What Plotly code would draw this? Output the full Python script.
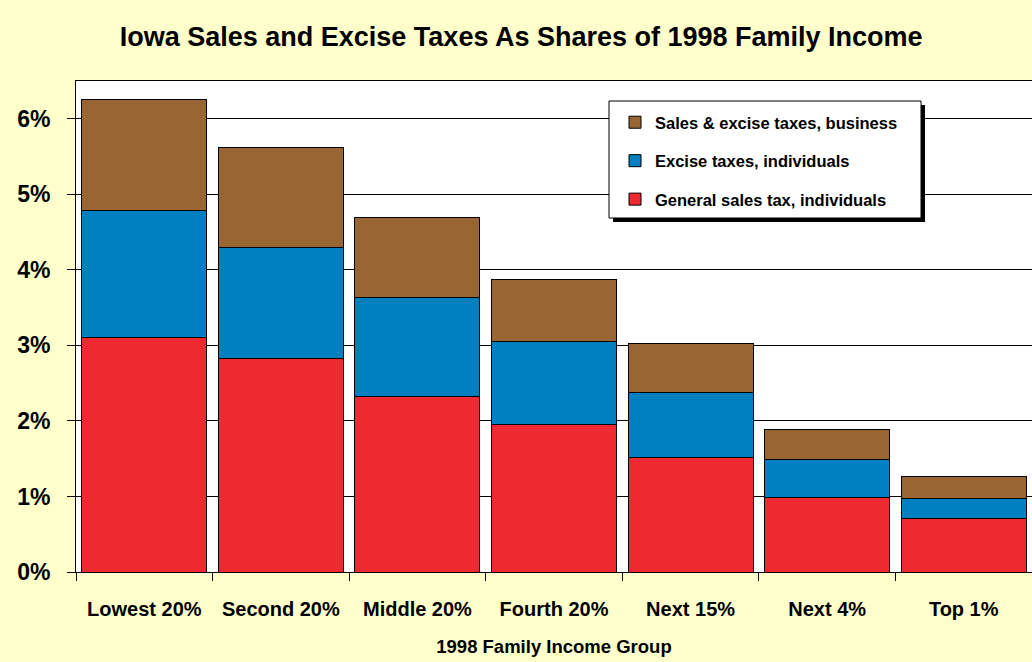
import plotly.graph_objects as go

# 1998 family income groups
groups = ["Lowest 20%", "Second 20%", "Middle 20%", "Fourth 20%",
          "Next 15%", "Next 4%", "Top 1%"]

# tax shares of income, in percent
general_sales = [3.11, 2.82, 2.32, 1.95, 1.52, 0.98, 0.71]
excise_indiv = [1.67, 1.47, 1.32, 1.10, 0.86, 0.51, 0.26]
business = [1.48, 1.33, 1.05, 0.82, 0.65, 0.40, 0.29]

FONT = "Liberation Sans, Arial, sans-serif"

# plot area in pixels
L, R, T, B = 76, 1032, 81, 572
PW, PH = R - L, B - T


def px(x):
    return (x - L) / PW


def py(y):
    return (B - y) / PH


fig = go.Figure()

fig.add_trace(go.Bar(x=groups, y=general_sales, name="General sales tax, individuals",
                     legendgroup="a", legendrank=3,
                     marker=dict(color="#EE2A30", line=dict(color="black", width=1))))
fig.add_trace(go.Bar(x=groups, y=excise_indiv, name="Excise taxes, individuals",
                     legendgroup="b", legendrank=2,
                     marker=dict(color="#0080C0", line=dict(color="black", width=1))))
fig.add_trace(go.Bar(x=groups, y=business, name="Sales & excise taxes, business",
                     legendgroup="c", legendrank=1,
                     marker=dict(color="#996633", line=dict(color="black", width=1))))

# legend box with drop shadow
fig.add_shape(type="rect", xref="paper", yref="paper",
              x0=px(613), x1=px(925), y0=py(222), y1=py(105),
              fillcolor="black", line=dict(width=0), layer="above")
fig.add_shape(type="rect", xref="paper", yref="paper",
              x0=px(609), x1=px(921), y0=py(218), y1=py(101),
              fillcolor="white", line=dict(color="black", width=1), layer="above")

fig.update_layout(
    width=1032, height=662,
    barmode="stack", bargap=0.085,
    paper_bgcolor="#FFFFCC", plot_bgcolor="white",
    margin=dict(l=L, r=1032 - R, t=T, b=662 - B, autoexpand=False),
    font=dict(family=FONT, color="black", weight="bold"),
    title=dict(text="Iowa Sales and Excise Taxes As Shares of 1998 Family Income",
               x=0.505, xanchor="center", y=0.945, yanchor="middle",
               font=dict(size=27, family=FONT, weight="bold")),
    legend=dict(x=px(615), y=py(105), xanchor="left", yanchor="top",
                traceorder="grouped", tracegroupgap=14,
                bgcolor="rgba(0,0,0,0)", borderwidth=0,
                font=dict(size=16.5, family=FONT, weight="bold")),
    showlegend=True,
)

fig.update_xaxes(
    automargin=False,
    showline=True, linecolor="black", linewidth=1, mirror=True,
    ticks="outside", ticklen=8, tickcolor="black", tickson="boundaries",
    tickfont=dict(size=20, family=FONT, weight="bold"), ticklabelstandoff=19,
    title=dict(text="1998 Family Income Group",
               font=dict(size=18.5, family=FONT, weight="bold"), standoff=21),
)
fig.update_yaxes(
    automargin=False,
    range=[0, 6.5], dtick=1, tickformat=".0f", ticksuffix="%",
    showgrid=True, gridcolor="black", gridwidth=1,
    showline=True, linecolor="black", linewidth=1,
    ticks="outside", ticklen=8, tickcolor="black",
    tickfont=dict(size=23, family=FONT, weight="bold"), ticklabelstandoff=12,
    zeroline=False,
)

fig.write_html("out.html", config={"displayModeBar": False},
               post_script="document.body.style.margin='0';")
